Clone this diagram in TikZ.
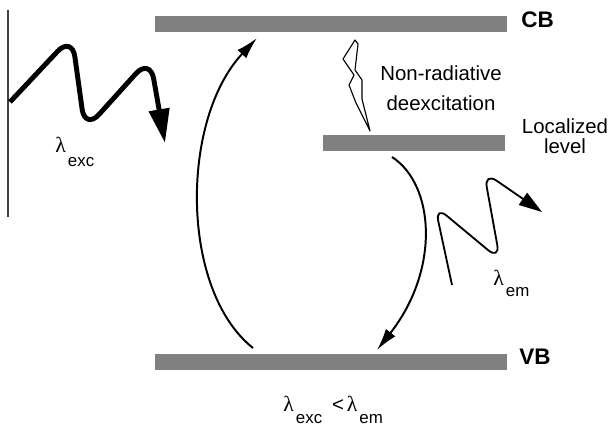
\documentclass[tikz,border=0pt]{standalone}
\usepackage{fontspec}
\setmainfont{Liberation Sans}
\newfontfamily\lamfont{Liberation Serif}
\usetikzlibrary{arrows.meta,positioning}
\definecolor{levelgray}{HTML}{808080}
\definecolor{frameline}{HTML}{404040}
\newcommand{\lamsub}[2]{{\lamfont\fontsize{15.5}{15.5}\selectfont λ}\hspace{1.5pt}\raisebox{-#2}{\fontsize{12}{12}\selectfont #1}}

\begin{document}
\begin{tikzpicture}[x=0.025cm,y=-0.025cm,>=Latex,font=\fontsize{14.5}{21}\selectfont,
  level/.style={fill=levelgray,inner sep=0,minimum width=8.8cm,minimum height=0.4cm,anchor=north west},
  band/.style={font=\fontsize{16}{16}\selectfont\bfseries,anchor=west,inner sep=0},
  trans/.style={line width=1.4pt,-{Latex[length=0.55cm,width=0.3cm]}},
  photon/.style={line width=1.3pt,rounded corners=11pt,-{Triangle[length=0.58cm,width=0.36cm]}}]
\useasboundingbox (0,0) rectangle (615,428);
\draw[frameline,line width=0.8pt] (8,10) -- (8,217);
% energy levels
\node[level] (cbbar) at (155,16) {};
\node[level,minimum width=4.55cm] (locbar) at (323,135) {};
\node[level] (vbbar) at (155,354) {};
\node[band] (cb) at (521,20) {CB};
\node[band] (vb) at (519,357) {VB};
\node[align=center,inner sep=0] (nonrad) at (441,88) {Non-radiative\\deexcitation};
\node[align=center,inner sep=0,font=\fontsize{14.5}{14.2}\selectfont] (loclevel) at (565,136) {Localized\\level};
% transitions
\coordinate (excfoot) at (253,348);
\coordinate (exchead) at (257,38);
\coordinate (emfoot) at (392,157);
\coordinate (emhead) at (377,350);
\draw[trans] (excfoot) .. controls (180,290) and (180,120) .. (exchead);
\draw[trans] (emfoot) .. controls (435,185) and (440,270) .. (emhead);
% lightning
\draw[line width=0.8pt,fill=white,line join=round]
  (355,40) -- (343,59) -- (354,75) -- (349,85) -- (356,103) -- (370,131)
  -- (362,99) -- (362,80) -- (355,70) -- (358,44) -- cycle;
% photons
\draw[line width=3.5pt,rounded corners=15pt,-{Triangle[length=0.85cm,width=0.5cm]}]
  (10,102) -- (72,36) -- (85,130) -- (150,58) -- (165,143);
\draw[photon] (452,285) -- (435,206) -- (500,260) -- (484,172) -- (542,212);
\node[anchor=base west,inner sep=0] (lexc) at (55,152) {\lamsub{exc}{10.5pt}};
\node[anchor=base west,inner sep=0] (lem) at (493,285) {\lamsub{em}{8.5pt}};
\node[anchor=base west,inner sep=0] (ineq) at (283,411) {\lamsub{exc}{9pt}\hspace{7pt}<\hspace{2pt}\lamsub{em}{9pt}};
\end{tikzpicture}
\end{document}
